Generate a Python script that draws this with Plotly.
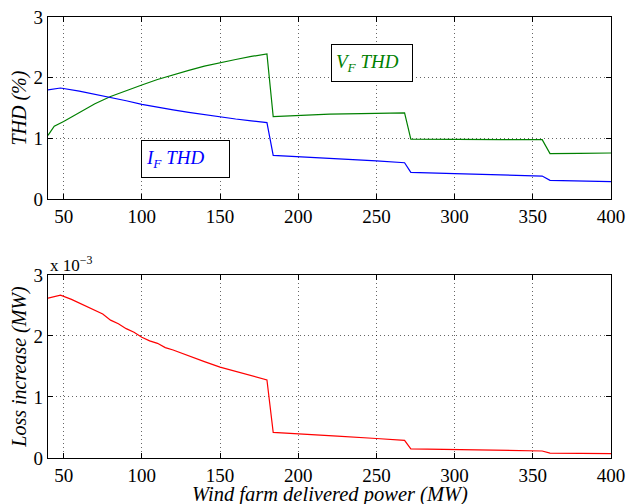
import plotly.graph_objects as go
from plotly.subplots import make_subplots

# Top panel: THD (%)
vf_x = [40, 44, 50, 60, 70, 80, 90, 100, 110, 120, 130, 140, 150, 160, 170, 180,
        184, 200, 220, 240, 268, 272, 300, 330, 356, 361, 380, 400]
vf_thd = [1.05, 1.2, 1.28, 1.43, 1.57, 1.69, 1.79, 1.88, 1.97, 2.05, 2.12, 2.19, 2.25, 2.30, 2.35, 2.39,
          1.36, 1.38, 1.40, 1.41, 1.42, 0.99, 0.98, 0.98, 0.98, 0.75, 0.755, 0.76]

if_x = [40, 48, 60, 70, 80, 90, 100, 110, 120, 130, 140, 150, 160, 170, 180,
        184, 200, 220, 250, 268, 272, 300, 330, 356, 361, 380, 400]
if_thd = [1.80, 1.83, 1.78, 1.73, 1.67, 1.62, 1.56, 1.51, 1.47, 1.43, 1.39, 1.36, 1.32, 1.29, 1.26,
          0.72, 0.70, 0.67, 0.63, 0.60, 0.44, 0.42, 0.40, 0.38, 0.31, 0.30, 0.29]

# Bottom panel: loss increase (x 10^-3 MW)
loss_x = [40, 48, 55, 60, 65, 70, 75, 80, 85, 90, 95, 100, 105, 110, 115, 120, 130, 140, 150,
          160, 170, 180, 184, 200, 225, 250, 268, 272, 300, 330, 356, 361, 380, 400]
loss_e3 = [2.62, 2.67, 2.60, 2.54, 2.47, 2.41, 2.36, 2.26, 2.20, 2.12, 2.06, 1.98, 1.92, 1.88, 1.81,
           1.77, 1.67, 1.58, 1.49, 1.42, 1.35, 1.28, 0.42, 0.40, 0.36, 0.32, 0.29, 0.15, 0.14, 0.125,
           0.115, 0.08, 0.075, 0.07]

x_ticks = [50, 100, 150, 200, 250, 300, 350, 400]
y_ticks = [0, 1, 2, 3]

FONT = "Liberation Serif"
FS = 19
TFS = 20

fig = make_subplots(rows=2, cols=1, shared_xaxes=False, vertical_spacing=0.17)
fig.add_trace(go.Scatter(x=vf_x, y=vf_thd, mode="lines", line=dict(color="rgb(0,128,0)", width=1.2)), row=1, col=1)
fig.add_trace(go.Scatter(x=if_x, y=if_thd, mode="lines", line=dict(color="rgb(0,0,255)", width=1.2)), row=1, col=1)
fig.add_trace(go.Scatter(x=loss_x, y=loss_e3, mode="lines", line=dict(color="rgb(255,0,0)", width=1.2)), row=2, col=1)

axis_common = dict(showline=True, linecolor="black", linewidth=1.2, mirror="ticks",
                   ticks="inside", ticklen=5, tickcolor="black", automargin=False,
                   showgrid=True, gridcolor="rgba(0,0,0,0.6)", griddash="1px,3px", gridwidth=1,
                   zeroline=False, tickfont=dict(family=FONT, size=FS, color="black"))

fig.update_xaxes(range=[40, 400], tickvals=x_ticks, **axis_common)
fig.update_yaxes(range=[0, 3], tickvals=y_ticks, **axis_common)

fig.update_layout(
    width=627, height=504,
    margin=dict(l=48, r=16, t=17, b=46),
    showlegend=False,
    plot_bgcolor="white", paper_bgcolor="white",
    font=dict(family=FONT, size=FS, color="black"),
)
fig.update_layout(yaxis=dict(domain=[0.587, 1.0]), yaxis2=dict(domain=[0.0, 0.415]))

fig.update_yaxes(title=dict(text="<i>THD (%)</i>", font=dict(family=FONT, size=TFS), standoff=1), row=1, col=1)
fig.update_yaxes(title=dict(text="<i>Loss increase (MW)</i>", font=dict(family=FONT, size=TFS), standoff=1), row=2, col=1)

# x-axis title placed just below the bottom tick labels
fig.add_annotation(xref="paper", yref="paper", x=0.5, y=-0.0835, xanchor="center", yanchor="middle",
                   text="<i>Wind farm delivered power (MW)</i>", showarrow=False,
                   font=dict(family=FONT, size=TFS + 0.5, color="black"))

fig.add_annotation(xref="x", yref="y", x=246.9, y=2.24, text="<i>V<sub>F</sub> THD</i>",
                   showarrow=False, font=dict(family=FONT, size=FS, color="rgb(0,128,0)"),
                   width=72, height=28, align="left",
                   bordercolor="black", borderwidth=1, bgcolor="white", borderpad=4)
fig.add_annotation(xref="x", yref="y", x=127.9, y=0.66, text="<i>I<sub>F</sub> THD</i>",
                   showarrow=False, font=dict(family=FONT, size=FS, color="rgb(0,0,255)"),
                   width=79, height=28, align="left",
                   bordercolor="black", borderwidth=1, bgcolor="white", borderpad=4)
fig.add_annotation(xref="paper", yref="paper", x=0.0, y=0.415, xanchor="left", yanchor="bottom",
                   text="x 10<sup>\u22123</sup>", showarrow=False, yshift=-2,
                   font=dict(family=FONT, size=17, color="black"))

fig.write_html("out.html", config={"displayModeBar": False},
               post_script="document.body.style.margin='0';")
